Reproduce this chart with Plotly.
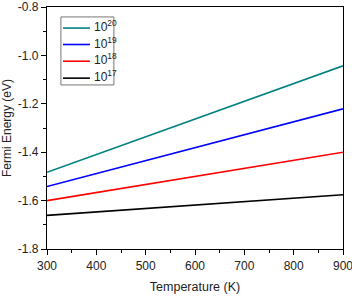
import plotly.graph_objects as go

temperature = [300, 900]
labels = ["10<sup>20</sup>", "10<sup>19</sup>", "10<sup>18</sup>", "10<sup>17</sup>"]
fermi_1e20 = [-1.483, -1.043]
fermi_1e19 = [-1.542, -1.221]
fermi_1e18 = [-1.600, -1.400]
fermi_1e17 = [-1.661, -1.576]
colors = ["#008080", "#0000ff", "#ff0000", "#000000"]

series = [fermi_1e20, fermi_1e19, fermi_1e18, fermi_1e17]

fig = go.Figure()
for lab, ys, c in zip(labels, series, colors):
    fig.add_trace(go.Scatter(x=temperature, y=ys, mode="lines", name=lab,
                             line=dict(color=c, width=1.6), showlegend=False))

# manual legend (paper coordinates of the plot domain)
fig.add_shape(type="rect", xref="paper", yref="paper", x0=0.047, x1=0.226,
              y0=0.678, y1=0.959, line=dict(color="#777", width=1),
              fillcolor="white", layer="above")
legend_y = [0.913, 0.845, 0.776, 0.706]
for lab, c, yy in zip(labels, colors, legend_y):
    fig.add_shape(type="line", xref="paper", yref="paper", x0=0.054, x1=0.145,
                  y0=yy, y1=yy, line=dict(color=c, width=1.6), layer="above")
    fig.add_annotation(xref="paper", yref="paper", x=0.153, y=yy, text=lab,
                       showarrow=False, xanchor="left", yanchor="middle", yshift=2,
                       font=dict(family="Liberation Sans, Arial", size=12, color="#222"))

fig.update_layout(
    width=352, height=297,
    margin=dict(l=47, r=9, t=7, b=48),
    paper_bgcolor="white", plot_bgcolor="white",
    font=dict(family="Liberation Sans, Arial", size=12, color="#222"),
    showlegend=False,
    xaxis=dict(range=[300, 900], tickvals=[300, 400, 500, 600, 700, 800, 900],
               ticklabeloverflow="allow", automargin=False,
               showline=True, linecolor="black", linewidth=1.2, mirror=True,
               ticks="outside", ticklen=5, tickcolor="black",
               minor=dict(ticks="outside", dtick=50, ticklen=3, tickcolor="black"),
               showgrid=False, zeroline=False,
               title=dict(text="Temperature (K)", standoff=10,
                          font=dict(family="Liberation Sans, Arial", size=12.5))),
    yaxis=dict(range=[-1.8, -0.8], tickvals=[-1.8, -1.6, -1.4, -1.2, -1.0, -0.8],
               ticktext=["-1.8", "-1.6", "-1.4", "-1.2", "-1.0", "-0.8"],
               ticklabeloverflow="allow", automargin=False,
               showline=True, linecolor="black", linewidth=1.2, mirror=True,
               ticks="outside", ticklen=5, tickcolor="black",
               minor=dict(ticks="outside", dtick=0.1, ticklen=3, tickcolor="black"),
               showgrid=False, zeroline=False,
               title=dict(text="Fermi Energy (eV)", standoff=3,
                          font=dict(family="Liberation Sans, Arial", size=12))),
)
fig.write_html("out.html")
